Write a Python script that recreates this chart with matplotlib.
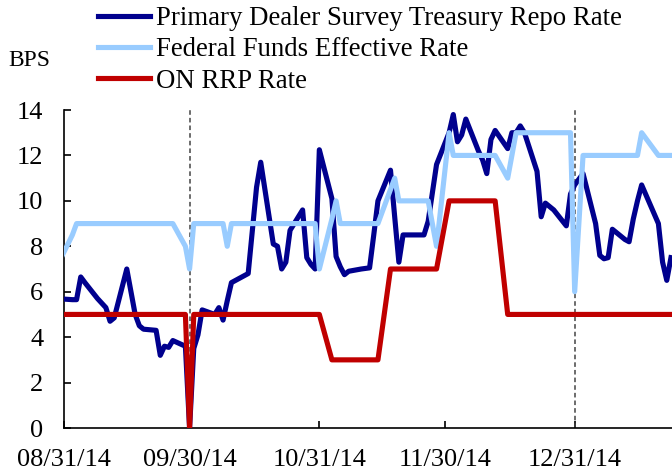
import matplotlib
matplotlib.use('Agg')
import matplotlib.pyplot as plt
import matplotlib.dates as mdates
import pandas as pd

plt.rcParams['font.family'] = ['Liberation Serif', 'DejaVu Serif']

# ---------------- data ----------------
repo_dates = ['2014-08-29', '2014-09-02', '2014-09-03', '2014-09-04', '2014-09-05', '2014-09-08',
              '2014-09-09', '2014-09-10', '2014-09-11', '2014-09-12', '2014-09-15', '2014-09-16',
              '2014-09-17', '2014-09-18', '2014-09-19', '2014-09-22', '2014-09-23', '2014-09-24',
              '2014-09-25', '2014-09-26', '2014-09-29', '2014-09-30', '2014-10-01', '2014-10-02',
              '2014-10-03', '2014-10-06', '2014-10-07', '2014-10-08', '2014-10-09', '2014-10-10',
              '2014-10-14', '2014-10-15', '2014-10-16', '2014-10-17', '2014-10-20', '2014-10-21',
              '2014-10-22', '2014-10-23', '2014-10-24', '2014-10-27', '2014-10-28', '2014-10-29',
              '2014-10-30', '2014-10-31', '2014-11-03', '2014-11-04', '2014-11-05', '2014-11-06',
              '2014-11-07', '2014-11-10', '2014-11-12', '2014-11-13', '2014-11-14', '2014-11-17',
              '2014-11-18', '2014-11-19', '2014-11-20', '2014-11-21', '2014-11-24', '2014-11-25',
              '2014-11-26', '2014-11-28', '2014-12-01', '2014-12-02', '2014-12-03', '2014-12-04',
              '2014-12-05', '2014-12-08', '2014-12-09', '2014-12-10', '2014-12-11', '2014-12-12',
              '2014-12-15', '2014-12-16', '2014-12-17', '2014-12-18', '2014-12-19', '2014-12-22',
              '2014-12-23', '2014-12-24', '2014-12-26', '2014-12-29', '2014-12-30', '2014-12-31',
              '2015-01-02', '2015-01-05', '2015-01-06', '2015-01-07', '2015-01-08', '2015-01-09',
              '2015-01-12', '2015-01-13', '2015-01-14', '2015-01-15', '2015-01-16', '2015-01-20',
              '2015-01-21', '2015-01-22', '2015-01-23']
repo_rate = [5.7, 5.65, 5.65, 6.65, 6.4, 5.7,
             5.5, 5.3, 4.7, 4.85, 7.0, 6.0,
             5.0, 4.5, 4.35, 4.3, 3.2, 3.6,
             3.55, 3.85, 3.6, 0.0, 3.5, 4.1,
             5.2, 5.0, 5.3, 4.75, 5.6, 6.4,
             6.8, 8.7, 10.6, 11.7, 8.1, 8.0,
             7.0, 7.3, 8.7, 9.6, 7.5, 7.2,
             7.0, 12.25, 10.1, 7.55, 7.1, 6.75,
             6.9, 7.0, 7.05, 8.5, 10.0, 11.35,
             9.3, 7.3, 8.5, 8.5, 8.5, 8.5,
             9.1, 11.6, 13.0, 13.8, 12.6, 12.9,
             13.6, 12.2, 11.8, 11.2, 12.7, 13.1,
             12.3, 13.0, 13.0, 13.3, 13.0, 11.3,
             9.3, 9.9, 9.6, 8.9, 10.3, 10.7,
             11.2, 9.0, 7.6, 7.45, 7.5, 8.75,
             8.3, 8.2, 9.2, 10.0, 10.7, 9.0,
             7.3, 6.5, 7.5]

ff_dates = ['2014-08-29', '2014-09-02', '2014-09-03', '2014-09-26', '2014-09-29', '2014-09-30',
            '2014-10-01', '2014-10-08', '2014-10-09', '2014-10-10', '2014-10-30', '2014-10-31',
            '2014-11-03', '2014-11-04', '2014-11-05', '2014-11-14', '2014-11-17', '2014-11-18',
            '2014-11-19', '2014-11-26', '2014-11-28', '2014-12-01', '2014-12-02', '2014-12-12',
            '2014-12-15', '2014-12-16', '2014-12-17', '2014-12-30', '2014-12-31', '2015-01-02',
            '2015-01-15', '2015-01-16', '2015-01-20', '2015-01-23']
ff_rate = [7.0, 8.5, 9.0, 9.0, 8.0, 7.0,
           9.0, 9.0, 8.0, 9.0, 9.0, 7.0,
           9.2, 10.0, 9.0, 9.0, 10.5, 11.0,
           10.0, 10.0, 8.0, 13.0, 12.0, 12.0,
           11.0, 12.0, 13.0, 13.0, 6.0, 12.0,
           12.0, 13.0, 12.0, 12.0]

rrp_dates = ['2014-08-29', '2014-09-29', '2014-09-30', '2014-10-01', '2014-10-31', '2014-11-03',
             '2014-11-14', '2014-11-17', '2014-11-28', '2014-12-01', '2014-12-12', '2014-12-15',
             '2015-01-23']
rrp_rate = [5, 5, 0, 5, 5, 3,
            3, 7, 7, 10, 10, 5,
            5]

series_labels = ['Primary Dealer Survey Treasury Repo Rate',
                 'Federal Funds Effective Rate',
                 'ON RRP Rate']
tick_dates = ['2014-08-31', '2014-09-30', '2014-10-31', '2014-11-30', '2014-12-31']
quarter_ends = ['2014-09-30', '2014-12-31']
y_ticks = [0, 2, 4, 6, 8, 10, 12, 14]

# ---------------- plot ----------------
W, H = 672, 473
fig = plt.figure(figsize=(W / 100, H / 100), dpi=100)
ax = fig.add_axes([64 / W, 45 / H, (W - 64) / W, 318 / H])

lw = 3.7
l1, = ax.plot(pd.to_datetime(repo_dates), repo_rate, color='#00008E', lw=lw, label=series_labels[0], zorder=3)
l2, = ax.plot(pd.to_datetime(ff_dates), ff_rate, color='#99CCFF', lw=lw, label=series_labels[1], zorder=4)
l3, = ax.plot(pd.to_datetime(rrp_dates), rrp_rate, color='#C00000', lw=lw, label=series_labels[2], zorder=5)

for q in quarter_ends:
    ax.axvline(pd.Timestamp(q), color='#444444', lw=1.1, ls=(0, (3, 2)), zorder=2)

ax.set_xlim(pd.Timestamp('2014-08-31'), pd.Timestamp('2015-01-23 06:00'))
ax.set_ylim(0, 14)
ax.set_yticks(y_ticks)
ax.set_xticks(pd.to_datetime(tick_dates))
ax.xaxis.set_major_formatter(mdates.DateFormatter('%m/%d/%y'))

for s in ['top', 'right']:
    ax.spines[s].set_visible(False)
for s in ['left', 'bottom']:
    ax.spines[s].set_linewidth(1.2)
    ax.spines[s].set_color('black')

fs = 19
ax.tick_params(axis='both', direction='in', length=5, width=1.2, labelsize=fs, colors='black')
ax.tick_params(axis='y', pad=15)
ax.tick_params(axis='x', pad=15)

fig.legend(handles=[l1, l2, l3], loc='upper left', bbox_to_anchor=(98 / W, 1 - 6 / H),
           frameon=False, fontsize=19.3, handlelength=1.95, handletextpad=0.2,
           labelspacing=0.24, borderpad=0, borderaxespad=0)

fig.text(8 / W, 1 - 61 / H, 'BPS', ha='left', va='center', fontsize=17)

fig.savefig('out.png', dpi=100)
